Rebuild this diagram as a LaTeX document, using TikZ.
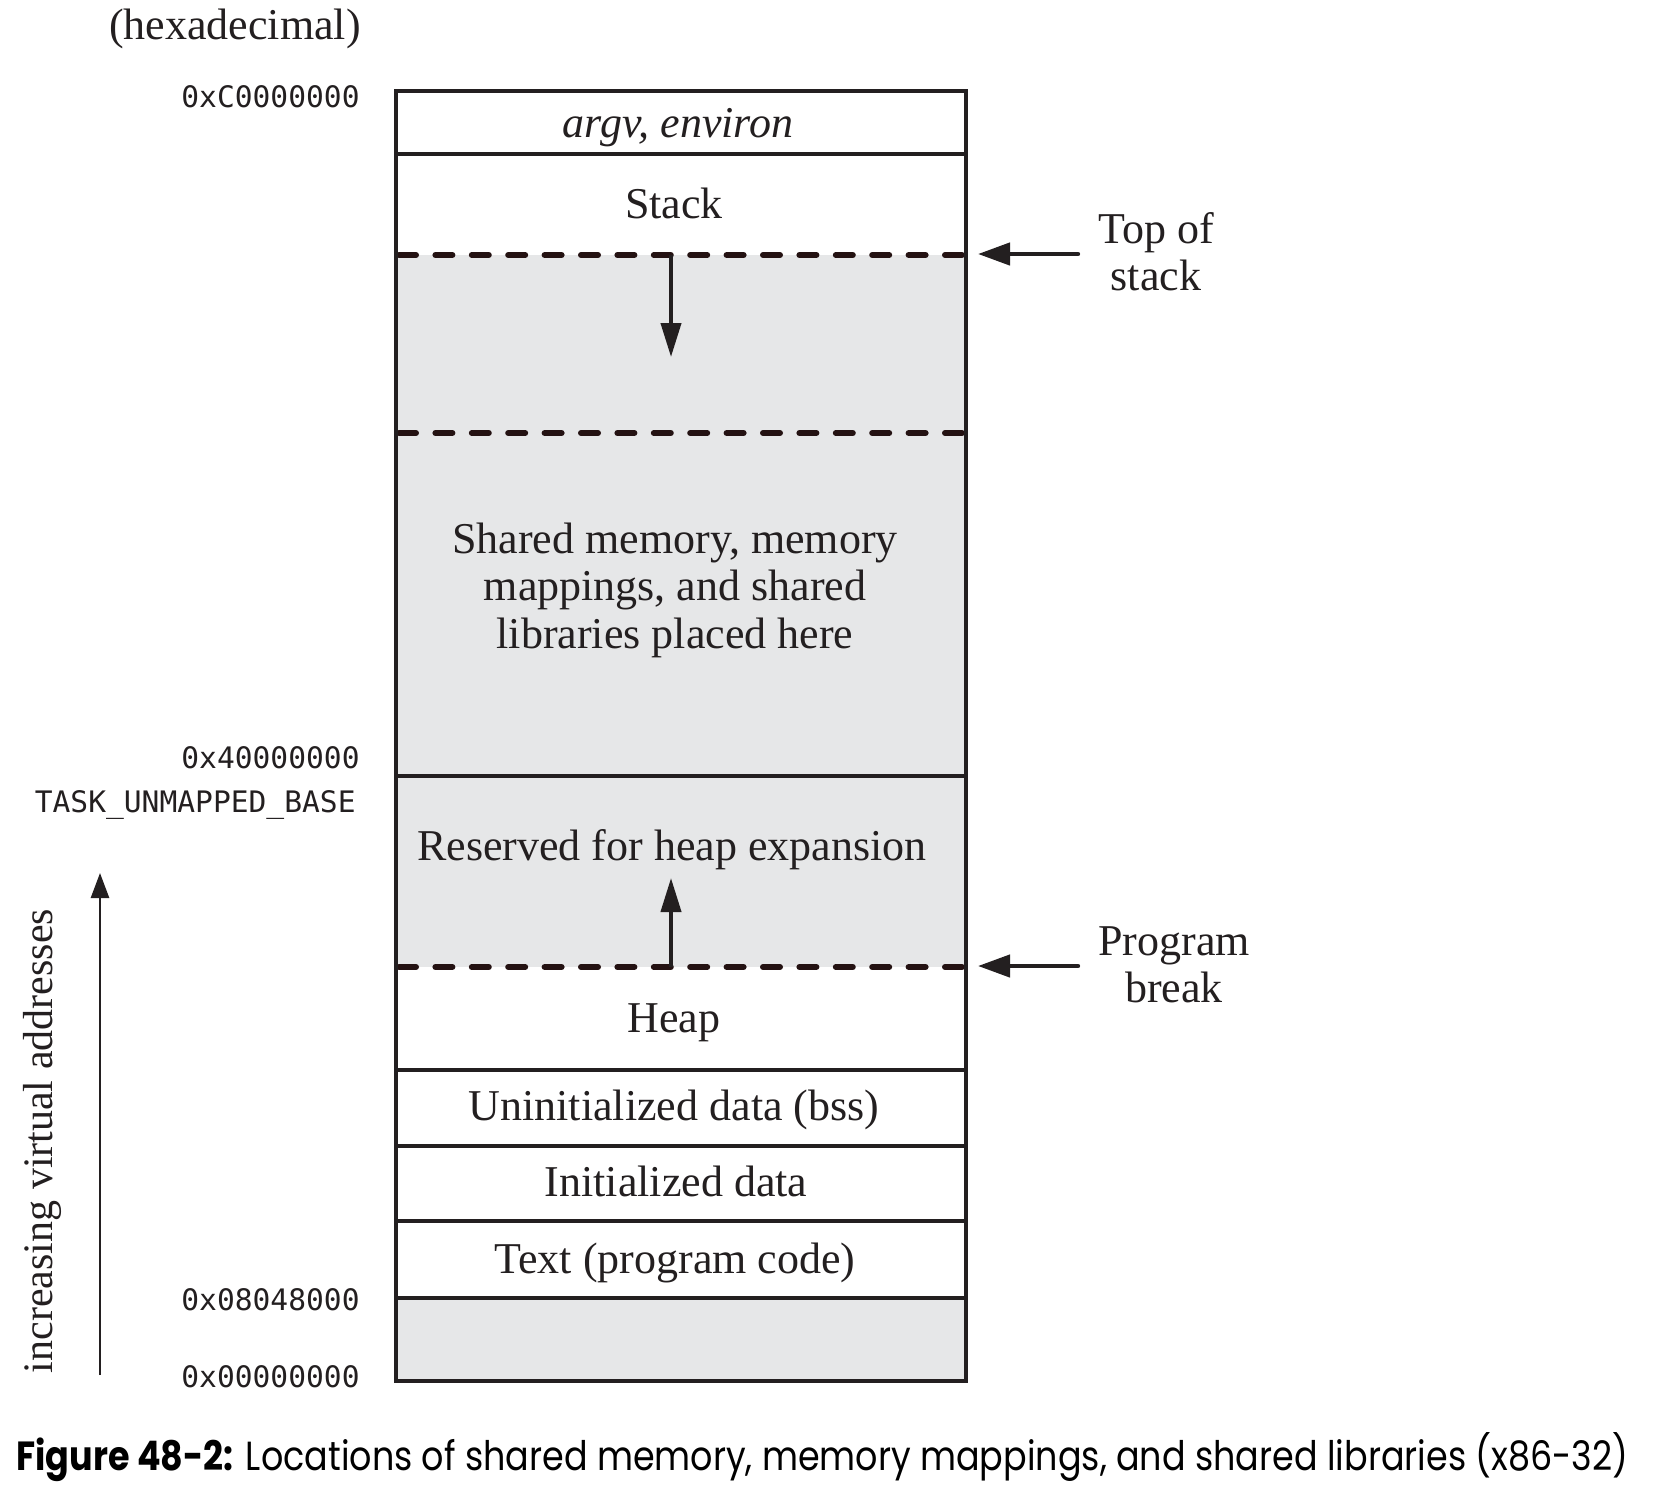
\documentclass[tikz,border=0pt]{standalone}
\usepackage{fontspec}
\setmainfont{Liberation Serif}
\newfontfamily\addrfont{DejaVu Sans Mono}
\newfontfamily\capfont{Poppins}
\usetikzlibrary{arrows.meta}
\definecolor{ink}{HTML}{231F20}
\definecolor{memgray}{HTML}{E6E7E8}
\definecolor{dashink}{HTML}{241212}
\begin{document}
\begin{tikzpicture}[x=0.5pt,y=-0.5pt,
  lbl/.style={font=\fontsize{22}{23.75}\selectfont, inner sep=0pt, text=ink, anchor=base},
  addr/.style={font=\addrfont\fontsize{14.8}{16}\selectfont, inner sep=0pt, anchor=base east, text=ink},
  memline/.style={draw=ink, line width=2.4pt},
  brkline/.style={draw=dashink, line width=3pt, dash pattern=on 8.5pt off 9.7pt, line cap=round},
  growarrow/.style={draw=ink, line width=2pt, -{Triangle[length=17pt,width=10pt]}},
  sideptr/.style={draw=ink, line width=2.2pt, line cap=round, -{Triangle[length=16pt,width=11pt]}},
  vaxisarrow/.style={draw=ink, line width=1.3pt, -{Triangle[length=12.5pt,width=9pt]}},
]
\useasboundingbox (0,0) rectangle (1660,1500);

% shaded regions
\fill[memgray] (396,255) rectangle (966,967);
\fill[memgray] (396,1298) rectangle (966,1381);

% solid dividers
\foreach \yy in {154,776,1070,1146,1221,1298}
  \draw[memline] (396,\yy) -- (966,\yy);

% dashed boundaries
\foreach \yy in {255,433,967}
  \draw[brkline] (399,\yy) -- (963,\yy);

% outer frame
\draw[memline] (396,91) rectangle (966,1381);

% region labels
\node[lbl] (argv) at (678,137) {\textit{argv, environ}};
\node[lbl] (stack) at (674,218) {Stack};
\node[lbl] (sm1) at (675,553) {Shared memory, memory};
\node[lbl] (sm2) at (675,600) {mappings, and shared};
\node[lbl] (sm3) at (675,648) {libraries placed here};
\node[lbl] (resv) at (672,860) {Reserved for heap expansion};
\node[lbl] (heap) at (674,1032) {Heap};
\node[lbl] (bss) at (674,1120) {Uninitialized data (bss)};
\node[lbl] (init) at (676,1196) {Initialized data};
\node[lbl] (text) at (675,1273) {Text (program code)};

% growth arrows
\coordinate (stacktop) at (671,255);
\coordinate (stacktip) at (671,357);
\coordinate (heapbrk) at (671,967);
\coordinate (heaptip) at (671,878);
\draw[growarrow] (stacktop) -- (stacktip);
\draw[growarrow] (heapbrk) -- (heaptip);

% left labels
\node[lbl] (hex) at (235,39) {(hexadecimal)};
\node[addr] (a1) at (360,107) {0xC0000000};
\node[addr] (a2) at (360,768) {0x40000000};
\node[addr] (a3) at (356,812) {TASK\_UNMAPPED\_BASE};
\node[addr] (a4) at (360,1310) {0x08048000};
\node[addr] (a5) at (360,1387) {0x00000000};

% increasing addresses axis
\coordinate (vabot) at (100,1375);
\coordinate (vatop) at (100,873);
\draw[vaxisarrow] (vabot) -- (vatop);
\node[lbl, font=\fontsize{21}{23}\selectfont, rotate=90] (incr) at (53,1141) {increasing virtual addresses};

% right labels and pointers
\node[lbl] (tos1) at (1156,243) {Top of};
\node[lbl] (tos2) at (1156,290) {stack};
\node[lbl] (pb1) at (1174,955) {Program};
\node[lbl] (pb2) at (1174,1002) {break};
\coordinate (tostail) at (1078,254);
\coordinate (tostip) at (978,254);
\coordinate (pbtail) at (1078,966);
\coordinate (pbtip) at (978,966);
\draw[sideptr] (tostail) -- (tostip);
\draw[sideptr] (pbtail) -- (pbtip);

% caption
\node[inner sep=0pt, anchor=base west, text=black] (cap) at (16,1470)
  {\resizebox{806pt}{19pt}{\capfont\textbf{Figure 48-2:} Locations of shared memory, memory mappings, and shared libraries (x86-32)}};
\end{tikzpicture}
\end{document}
